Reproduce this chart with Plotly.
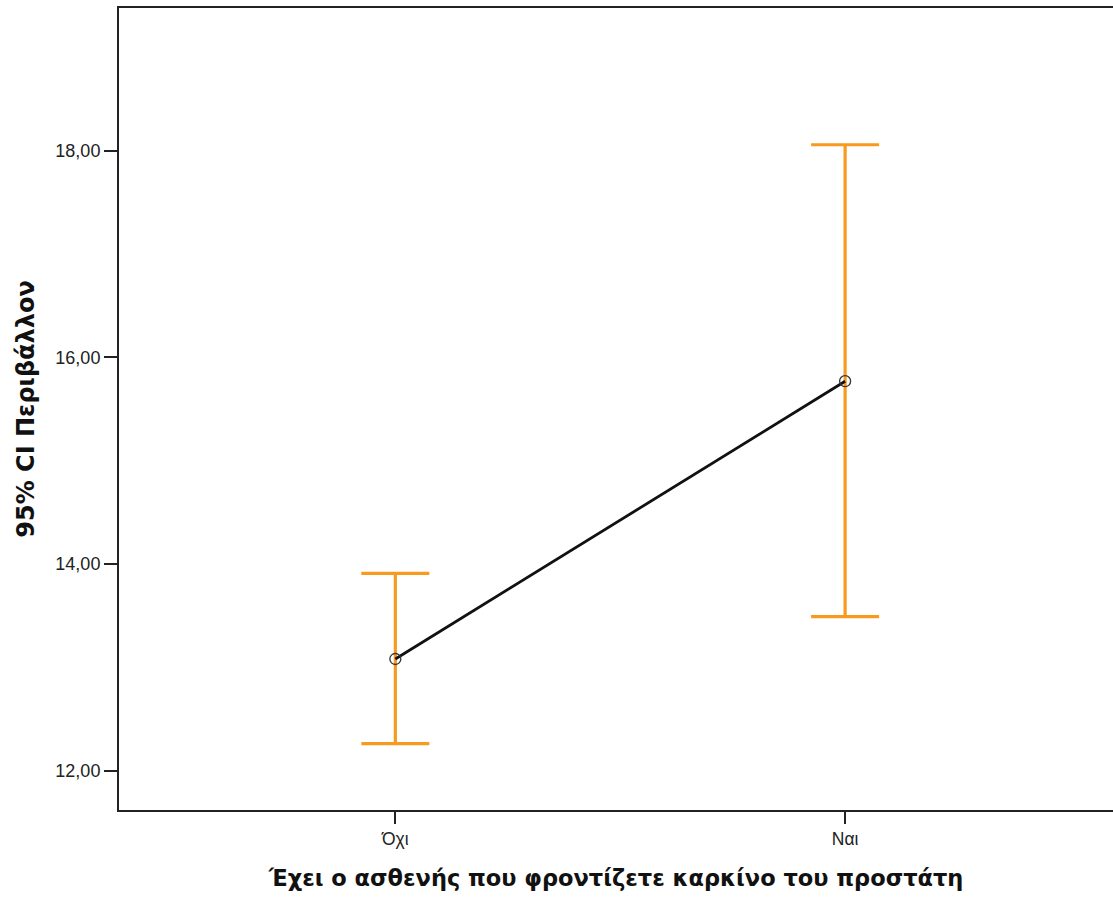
import plotly.graph_objects as go

categories = ["Όχι", "Ναι"]
means = [13.08, 15.77]
ci_upper = [13.91, 18.06]
ci_lower = [12.26, 13.49]

x_title = "Έχει ο ασθενής που φροντίζετε καρκίνο του προστάτη"
y_title = "95% CI Περιβάλλον"
y_ticks = [12, 14, 16, 18]
y_ticklabels = ["12,00", "14,00", "16,00", "18,00"]

xpos = list(range(len(categories)))
err_plus = [u - m for u, m in zip(ci_upper, means)]
err_minus = [m - l for m, l in zip(means, ci_lower)]

fig = go.Figure()
# error bars (orange)
fig.add_trace(go.Scatter(
    x=xpos, y=means, mode="markers",
    marker=dict(size=1, color="rgba(0,0,0,0)"),
    error_y=dict(type="data", symmetric=False, array=err_plus, arrayminus=err_minus,
                 color="#F79A1E", thickness=3.2, width=34),
    showlegend=False, hoverinfo="skip"))
# mean line + markers
fig.add_trace(go.Scatter(
    x=xpos, y=means, mode="lines+markers",
    line=dict(color="#111111", width=2.8),
    marker=dict(symbol="circle-open", size=11, color="#333333", line=dict(width=1.3, color="#333333")),
    showlegend=False))

fig.update_layout(
    width=1113, height=897,
    margin=dict(l=118.5, r=0, t=8, b=86.5),
    paper_bgcolor="white", plot_bgcolor="white",
    font=dict(family="Liberation Sans, Arial, sans-serif", color="#222222"),
)
fig.update_xaxes(
    range=[-0.6144, 1.5956], tickvals=xpos, ticktext=categories,
    showgrid=False, zeroline=False,
    showline=True, linecolor="#222222", linewidth=2, mirror=True,
    ticks="outside", ticklen=12, tickwidth=2, tickcolor="#222222",
    tickfont=dict(size=17.5, color="#222222"),
    title=dict(text="<b>" + x_title + "</b>",
               font=dict(family="DejaVu Sans, sans-serif", size=22.5, color="#111111"), standoff=22),
    automargin=False,
)
fig.update_yaxes(
    range=[11.618, 19.384], tickvals=y_ticks, ticktext=y_ticklabels,
    showgrid=False, zeroline=False,
    showline=True, linecolor="#222222", linewidth=2, mirror=False,
    ticks="outside", ticklen=13, tickwidth=2, tickcolor="#222222",
    tickfont=dict(size=18, color="#222222"),
    title=dict(text="<b>" + y_title + "</b>",
               font=dict(family="DejaVu Sans, sans-serif", size=24, color="#111111"), standoff=14),
    automargin=False,
)

fig.write_html("out.html")
